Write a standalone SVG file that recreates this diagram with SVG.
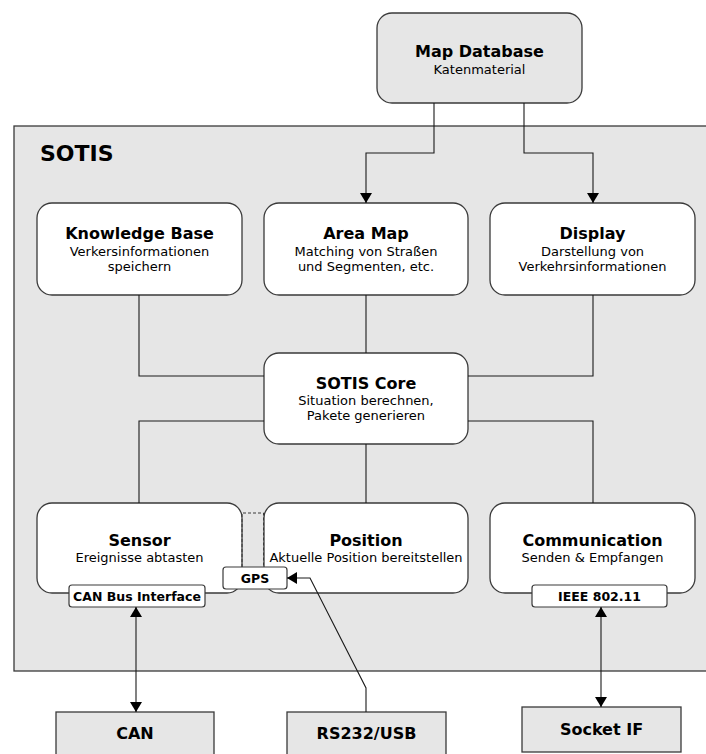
<svg xmlns="http://www.w3.org/2000/svg" width="706" height="754" viewBox="0 0 706 754">
  <style>
    .frame { fill: #e6e6e6; stroke: #3a3a3a; stroke-width: 1.3; }
    .box { fill: #ffffff; stroke: #3a3a3a; stroke-width: 1.3; }
    .ext { fill: #e6e6e6; stroke: #3a3a3a; stroke-width: 1.3; }
    .port { fill: #ffffff; stroke: #3a3a3a; stroke-width: 1.2; }
    .wire { fill: none; stroke: #1a1a1a; stroke-width: 1.1; }
    .dash { fill: none; stroke: #3a3a3a; stroke-width: 1; stroke-dasharray: 3 2; }
    text { font-family: "DejaVu Sans", Verdana, sans-serif; fill: #000; text-anchor: middle; }
    .title { font-size: 16px; font-weight: bold; }
    .sub { font-size: 13px; }
    .label { font-size: 12.5px; font-weight: bold; }
    .big { font-size: 22px; font-weight: bold; text-anchor: start; }
  </style>
  <defs>
    <marker id="head" viewBox="0 0 10 12" refX="10" refY="6" markerWidth="10" markerHeight="12" markerUnits="userSpaceOnUse" orient="auto-start-reverse">
      <path d="M0,0 L10,6 L0,12 z" fill="#000"/>
    </marker>
  </defs>

  <!-- system frame -->
  <g id="sotis">
    <rect class="frame" x="14" y="126" width="720" height="545"/>
    <text class="big" x="40" y="161">SOTIS</text>
  </g>

  <g id="map-database">
    <rect class="ext" x="377" y="13" width="205" height="90" rx="15"/>
    <text class="title" x="479.5" y="57">Map Database</text>
    <text class="sub" x="479.5" y="74">Katenmaterial</text>
  </g>

  <g id="knowledge-base">
    <rect class="box" x="37" y="203" width="205" height="92" rx="15"/>
    <text class="title" x="139.5" y="239">Knowledge Base</text>
    <text class="sub" x="139.5" y="256">Verkersinformationen</text>
    <text class="sub" x="139.5" y="271">speichern</text>
  </g>

  <g id="area-map">
    <rect class="box" x="264" y="203" width="204" height="92" rx="15"/>
    <text class="title" x="366" y="239">Area Map</text>
    <text class="sub" x="366" y="256">Matching von Straßen</text>
    <text class="sub" x="366" y="271">und Segmenten, etc.</text>
  </g>

  <g id="display">
    <rect class="box" x="490" y="203" width="205" height="92" rx="15"/>
    <text class="title" x="592.5" y="239">Display</text>
    <text class="sub" x="592.5" y="256">Darstellung von</text>
    <text class="sub" x="592.5" y="271">Verkehrsinformationen</text>
  </g>

  <g id="sotis-core">
    <rect class="box" x="264" y="353" width="204" height="91" rx="15"/>
    <text class="title" x="366" y="389">SOTIS Core</text>
    <text class="sub" x="366" y="405">Situation berechnen,</text>
    <text class="sub" x="366" y="420">Pakete generieren</text>
  </g>

  <g id="sensor">
    <rect class="box" x="37" y="503" width="205" height="90" rx="15"/>
    <text class="title" x="139.5" y="546">Sensor</text>
    <text class="sub" x="139.5" y="562">Ereignisse abtasten</text>
  </g>

  <g id="position">
    <rect class="box" x="264" y="503" width="204" height="90" rx="15"/>
    <text class="title" x="366" y="546">Position</text>
    <text class="sub" x="366" y="562">Aktuelle Position bereitstellen</text>
  </g>

  <g id="communication">
    <rect class="box" x="490" y="503" width="205" height="90" rx="15"/>
    <text class="title" x="592.5" y="546">Communication</text>
    <text class="sub" x="592.5" y="562">Senden &amp; Empfangen</text>
  </g>

  <!-- GPS receiver bracket between Sensor and Position -->
  <g id="gps">
    <path class="dash" d="M242,567 V513 H263.5 V567"/>
    <rect class="port" x="223" y="567" width="64" height="22" rx="3"/>
    <text class="label" x="255" y="583">GPS</text>
  </g>

  <g id="can-bus-interface">
    <rect class="port" x="69" y="585" width="136" height="22" rx="3"/>
    <text class="label" x="137" y="601">CAN Bus Interface</text>
  </g>

  <g id="ieee-802-11">
    <rect class="port" x="532" y="585" width="135" height="22" rx="3"/>
    <text class="label" x="599.5" y="601">IEEE 802.11</text>
  </g>

  <g id="can">
    <rect class="ext" x="56" y="712" width="158" height="60"/>
    <text class="title" x="135" y="739">CAN</text>
  </g>

  <g id="rs232-usb">
    <rect class="ext" x="287" y="712" width="159" height="60"/>
    <text class="title" x="366.5" y="739">RS232/USB</text>
  </g>

  <g id="socket-if">
    <rect class="ext" x="522" y="707" width="159" height="45"/>
    <text class="title" x="601.5" y="735">Socket IF</text>
  </g>

  <!-- connectors, drawn last so the serial link crosses the Position box -->
  <g id="connectors">
    <path class="wire" d="M434,103 V153 H366 V203" marker-end="url(#head)"/>
    <path class="wire" d="M524,103 V153 H593 V203" marker-end="url(#head)"/>
    <path class="wire" d="M139,295 V376 H264"/>
    <path class="wire" d="M593,295 V376 H468"/>
    <path class="wire" d="M366,295 V353"/>
    <path class="wire" d="M366,444 V503"/>
    <path class="wire" d="M264,421 H139 V503"/>
    <path class="wire" d="M468,421 H593 V503"/>
    <path class="wire" d="M136,607 V712" marker-start="url(#head)" marker-end="url(#head)"/>
    <path class="wire" d="M601,607 V707" marker-start="url(#head)" marker-end="url(#head)"/>
    <path class="wire" d="M366,712 V688 L310,578 H287" marker-end="url(#head)"/>
  </g>
</svg>
